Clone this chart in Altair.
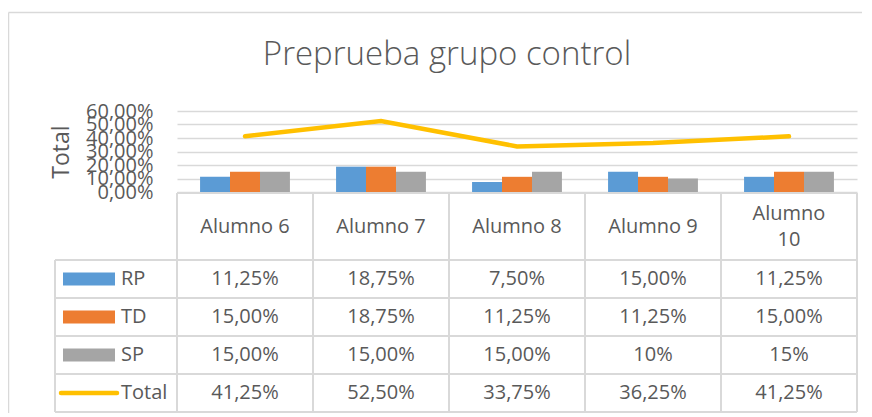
import altair as alt
import pandas as pd

# ---------------- data ----------------
TITLE = "Preprueba grupo control"
alumnos = ["Alumno 6", "Alumno 7", "Alumno 8", "Alumno 9", "Alumno 10"]
header_labels = ["Alumno 6", "Alumno 7", "Alumno 8", "Alumno 9", "Alumno\n10"]
series = ["RP", "TD", "SP"]
rp = ["11,25%", "18,75%", "7,50%", "15,00%", "11,25%"]
td = ["15,00%", "18,75%", "11,25%", "11,25%", "15,00%"]
sp = ["15,00%", "15,00%", "15,00%", "10%", "15%"]
total = ["41,25%", "52,50%", "33,75%", "36,25%", "41,25%"]
y_ticks = [0, 0.1, 0.2, 0.3, 0.4, 0.5, 0.6]

# ---------------- style ----------------
FONT = "Open Sans"
TXT = "#595959"
GRID = "#d9d9d9"
colors = {"RP": "#5B9BD5", "TD": "#ED7D31", "SP": "#A5A5A5", "Total": "#FFC000"}
W, H = 680, 81                 # plot area (bars region)
ROW = 38                       # table row height (px)
HDR = 67 / ROW                 # header row height in row units
LEG = 122 / 136                # legend column width in column units
LINE_H = 26


def pct(s):
    return float(s.replace("%", "").replace(",", ".")) / 100


rows = {"RP": rp, "TD": td, "SP": sp, "Total": total}
row_names = ["RP", "TD", "SP", "Total"]

bars_df = pd.DataFrame(
    [{"alumno": a, "serie": s, "value": pct(rows[s][i])}
     for s in series for i, a in enumerate(alumnos)]
)
line_df = pd.DataFrame({"alumno": alumnos, "value": [pct(v) for v in total]})

# table geometry (column / row units)
n = len(alumnos)
nrows = len(row_names)
bottom = HDR + nrows
TABLE_TOP = H + 1
TABLE_BOTTOM = TABLE_TOP + bottom * ROW
seg = [{"x": 0, "x2": n, "y": 0, "y2": 0}]
for k in range(nrows + 1):
    seg.append({"x": -LEG, "x2": n, "y": HDR + k, "y2": HDR + k})
for c in range(n + 1):
    seg.append({"x": c, "x2": c, "y": 0, "y2": bottom})
seg.append({"x": -LEG, "x2": -LEG, "y": HDR, "y2": bottom})
seg_df = pd.DataFrame(seg)

hdr_df = pd.DataFrame({"x": [i + 0.5 for i in range(n)], "y": [HDR / 2] * n,
                       "text": header_labels})
hdr_df["lines"] = hdr_df["text"].str.count("\n") + 1
val_df = pd.DataFrame(
    [{"x": i + 0.5, "y": HDR + r + 0.5, "text": rows[name][i]}
     for r, name in enumerate(row_names) for i in range(n)]
)
leg_df = pd.DataFrame({"x": [-56 / 136] * nrows,
                       "y": [HDR + r + 0.5 for r in range(nrows)],
                       "text": row_names})
key_df = pd.DataFrame(
    [{"x": -114 / 136, "x2": -62 / 136, "y": HDR + r + 0.5 - 6.5 / ROW,
      "y2": HDR + r + 0.5 + 6.5 / ROW, "serie": s} for r, s in enumerate(series)]
)
keyline_df = pd.DataFrame({"x": [-116 / 136], "x2": [-60 / 136],
                           "y": [HDR + 3.5]})

# ---------------- top: bars + line ----------------
xb = alt.X("alumno:N", sort=alumnos,
           scale=alt.Scale(domain=alumnos, paddingInner=0, paddingOuter=0), axis=None)
yaxis = alt.Axis(
    values=y_ticks,
    labelExpr="replace(format(datum.value, '.2%'), '.', ',')",
    domain=False, ticks=False, labelPadding=24,
    labelFont=FONT, labelFontSize=20, labelColor=TXT, labelOverlap=False,
    grid=True, gridColor=GRID, gridWidth=1.5,
    title="Total", titleFont=FONT, titleFontSize=23, titleFontWeight="normal",
    titleColor=TXT, titlePadding=12,
)
yp = alt.Y("value:Q", scale=alt.Scale(domain=[0, 0.6], nice=False), axis=yaxis)

bars = alt.Chart(bars_df).mark_bar().encode(
    x=xb,
    xOffset=alt.XOffset("serie:N", sort=series,
                        scale=alt.Scale(domain=series, paddingOuter=0.77, paddingInner=0)),
    y=yp,
    color=alt.Color("serie:N", scale=alt.Scale(domain=series,
                    range=[colors[s] for s in series]), legend=None),
)
line = alt.Chart(line_df).mark_line(color=colors["Total"], strokeWidth=4.5,
                                    strokeCap="round").encode(x=xb, y=yp)
top = alt.layer(bars, line)

# ---------------- table ----------------
xt = dict(scale=alt.Scale(domain=[0, n], nice=False, zero=False), axis=None)
yt = dict(scale=alt.Scale(domain=[0, bottom], range=[TABLE_TOP, TABLE_BOTTOM],
                          nice=False, zero=False), axis=None)

t_lines = alt.Chart(seg_df).mark_rule(color=GRID, strokeWidth=2).encode(
    x=alt.X("x:Q", **xt), x2="x2", y=alt.Y("y:Q", **yt), y2="y2")
t_keys = alt.Chart(key_df).mark_rect().encode(
    x=alt.X("x:Q", **xt), x2="x2", y=alt.Y("y:Q", **yt), y2="y2",
    color=alt.Color("serie:N", scale=alt.Scale(domain=series,
                    range=[colors[s] for s in series]), legend=None))
t_keyline = alt.Chart(keyline_df).mark_rule(color=colors["Total"], strokeWidth=4.5,
                                            strokeCap="round").encode(
    x=alt.X("x:Q", **xt), x2="x2", y=alt.Y("y:Q", **yt))
hdr_base = alt.Chart(hdr_df)
t_hdr1 = hdr_base.transform_filter("datum.lines == 1").mark_text(
    font=FONT, fontSize=20, color=TXT, align="center", baseline="middle").encode(
    x=alt.X("x:Q", **xt), y=alt.Y("y:Q", **yt), text="text:N")
t_hdr2 = hdr_base.transform_filter("datum.lines == 2").mark_text(
    font=FONT, fontSize=20, color=TXT, align="center", baseline="middle",
    lineBreak="\n", lineHeight=LINE_H, dy=-LINE_H / 2).encode(
    x=alt.X("x:Q", **xt), y=alt.Y("y:Q", **yt), text="text:N")
t_val = alt.Chart(val_df).mark_text(font=FONT, fontSize=20, color=TXT, align="center",
                                    baseline="middle").encode(
    x=alt.X("x:Q", **xt), y=alt.Y("y:Q", **yt), text="text:N")
t_leg = alt.Chart(leg_df).mark_text(font=FONT, fontSize=20, color=TXT, align="left",
                                    baseline="middle").encode(
    x=alt.X("x:Q", **xt), y=alt.Y("y:Q", **yt), text="text:N")
table = alt.layer(t_lines, t_keys, t_keyline, t_hdr1, t_hdr2, t_val, t_leg)

# chart-area frame (top and left edges)
frame_top = alt.Chart(pd.DataFrame({"k": [0]})).mark_rule(
    color=GRID, strokeWidth=1.5).encode(
    x=alt.value(-168.5), x2=alt.value(720), y=alt.value(-98.5))
frame_left = alt.Chart(pd.DataFrame({"k": [0]})).mark_rule(
    color=GRID, strokeWidth=1.5).encode(
    x=alt.value(-168.5), y=alt.value(-98.5), y2=alt.value(330))

chart = alt.layer(frame_top, frame_left, top, table).resolve_scale(
    x="independent", y="independent", color="independent"
).properties(
    width=W, height=H,
    title=alt.TitleParams(TITLE, font=FONT, fontSize=33, fontWeight=300, color=TXT,
                          anchor="middle", frame="group", dx=-70, offset=-86,
                          baseline="alphabetic"),
    padding={"left": 169, "top": 103, "right": 5, "bottom": 221},
    autosize=alt.AutoSizeParams(type="none"),
).configure_view(stroke=None)

chart.save("out.html", embed_options={"renderer": "svg", "actions": False})
